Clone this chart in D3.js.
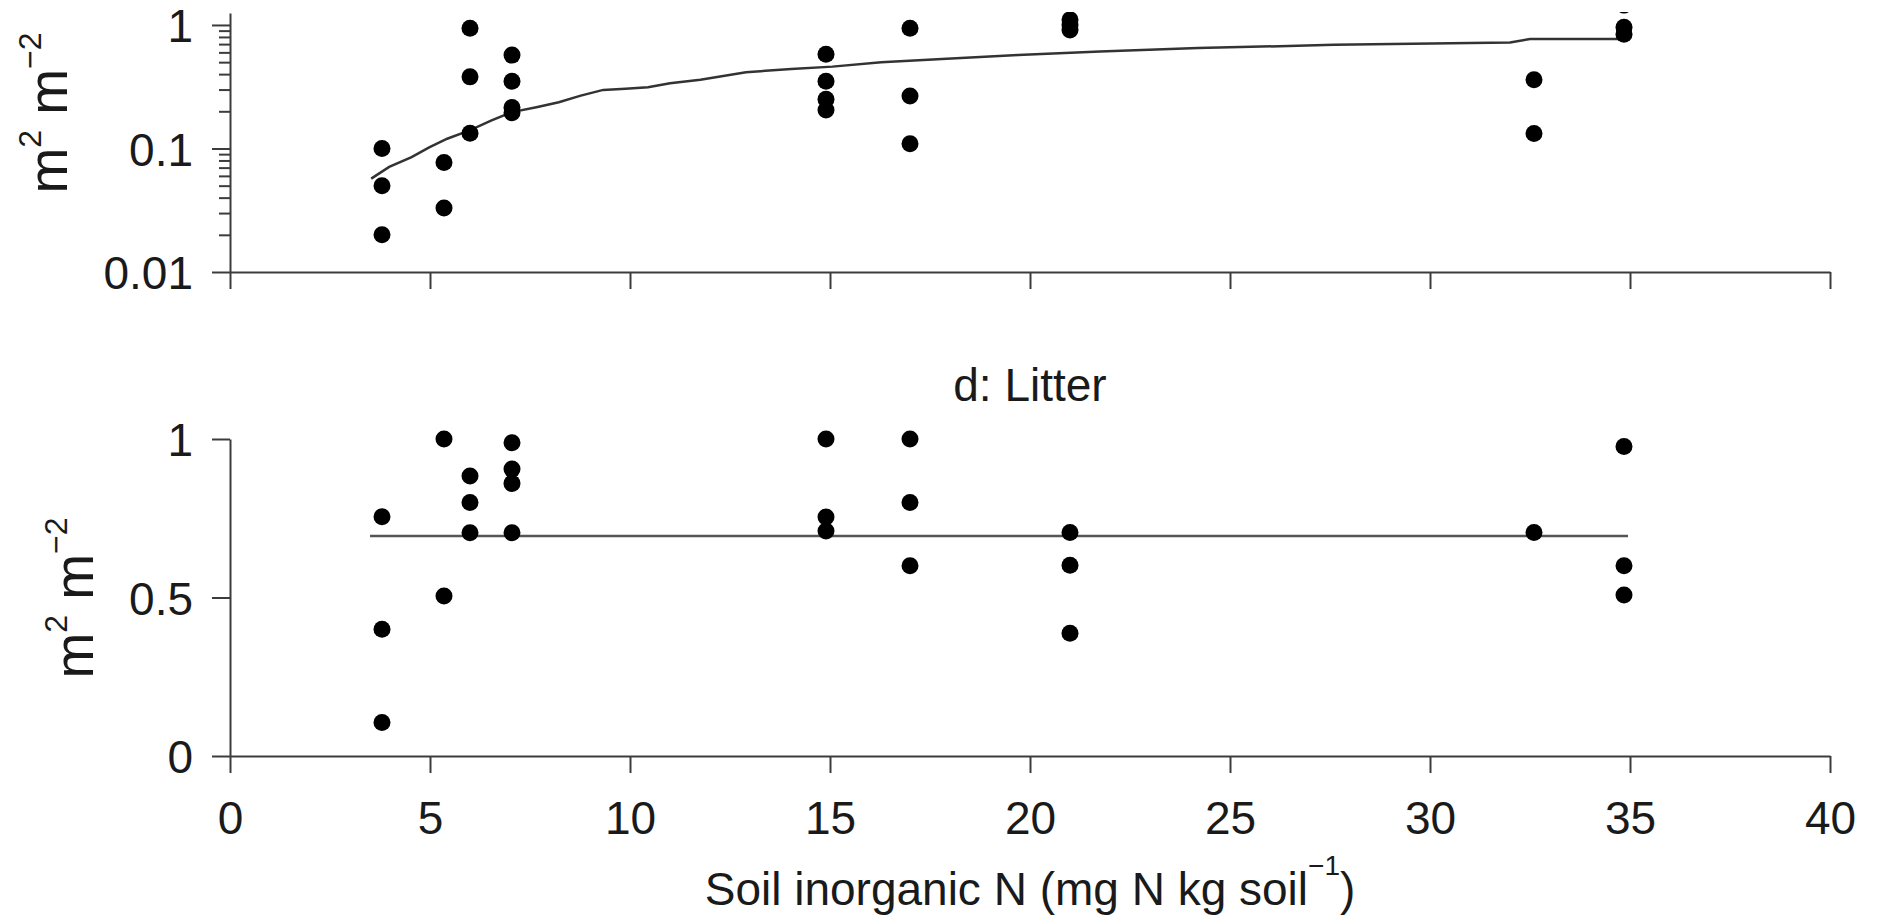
<!DOCTYPE html>
<html>
<head>
<meta charset="utf-8">
<script src="https://cdn.jsdelivr.net/npm/d3@7"></script>
<style>
    body { margin: 0; background: #fff; }
    svg { display: block; font-family: "Liberation Sans", Arial, sans-serif; }
</style>
</head>
<body>
<svg id="chart"></svg>
<script>
const width = 1883;
const height = 921;

// upper panel (log scale)
const topX = [3.8, 3.8, 3.8, 5.35, 5.35, 6, 6, 6, 7.05, 7.05, 7.05, 7.05,
    14.9, 14.9, 14.9, 14.9, 17, 17, 17, 21, 21, 21, 32.6, 32.6, 34.85, 34.85, 34.85];
const topY = [0.1, 0.05, 0.02, 0.077, 0.033, 0.94, 0.38, 0.133, 0.57, 0.35, 0.215, 0.195,
    0.58, 0.35, 0.25, 0.205, 0.94, 0.266, 0.109, 0.91, 1.0, 1.1, 0.36, 0.132, 0.96, 0.84, 1.45];
const topFitX = [3.53, 3.98, 4.54, 4.98, 5.43, 5.99, 6.54, 7.05, 7.66, 8.22, 8.77, 9.33, 9.89,
    10.45, 11.0, 11.76, 12.9, 14.03, 15.06, 16.28, 17.8, 19.7, 21.75, 24.2, 27.6, 32.0, 32.5, 34.8];
const topFitY = [0.057, 0.071, 0.085, 0.102, 0.12, 0.14, 0.169, 0.197, 0.216, 0.237, 0.268, 0.298, 0.304,
    0.313, 0.337, 0.36, 0.415, 0.44, 0.46, 0.5, 0.53, 0.57, 0.61, 0.65, 0.69, 0.72, 0.77, 0.77];

// d: Litter
const litterX = [3.8, 3.8, 3.8, 5.35, 5.35, 6, 6, 6, 7.05, 7.05, 7.05, 7.05,
    14.9, 14.9, 14.9, 17, 17, 17, 21, 21, 21, 32.6, 34.85, 34.85, 34.85];
const litterY = [0.755, 0.40, 0.106, 1.0, 0.505, 0.883, 0.80, 0.704, 0.988, 0.905, 0.86, 0.704,
    1.0, 0.754, 0.71, 1.0, 0.80, 0.60, 0.705, 0.602, 0.387, 0.705, 0.976, 0.60, 0.508];
const litterFitX = [3.5, 34.95];
const litterFitY = [0.694, 0.694];

const xTicks = [0, 5, 10, 15, 20, 25, 30, 35, 40];
const topTicks = [0.01, 0.1, 1];
const topMinorTicks = [0.02, 0.03, 0.04, 0.05, 0.06, 0.07, 0.08, 0.09,
    0.2, 0.3, 0.4, 0.5, 0.6, 0.7, 0.8, 0.9];
const litterTicks = [0, 0.5, 1];

const axisColor = '#3c3c3c';
const textColor = '#1a1a1a';

const svg = d3.select('#chart')
    .attr('width', width)
    .attr('height', height);

const x = d3.scaleLinear().domain([0, 40]).range([230, 1830]);
const yTop = d3.scaleLog().domain([0.01, 1.25]).range([272, 13]);
const yLit = d3.scaleLinear().domain([0, 1]).range([756, 439]);

function styleAxis(g) {
    g.attr('font-family', null).attr('font-size', 46);
    g.select('.domain').attr('stroke', axisColor).attr('stroke-width', 2);
    g.selectAll('.tick line').attr('stroke', axisColor).attr('stroke-width', 2);
    g.selectAll('.tick text').attr('fill', textColor);
}

// ---- top panel
svg.append('g')
    .attr('transform', 'translate(0,272)')
    .call(d3.axisBottom(x).tickValues(xTicks).tickSize(17).tickSizeOuter(0).tickFormat(''))
    .call(styleAxis);

svg.append('g')
    .attr('transform', 'translate(230,0)')
    .call(d3.axisLeft(yTop).tickValues(topMinorTicks).tickSize(11).tickFormat(''))
    .call(styleAxis)
    .call(g => g.select('.domain').remove());

svg.append('g')
    .attr('transform', 'translate(230,0)')
    .call(d3.axisLeft(yTop).tickValues(topTicks).tickSize(18).tickPadding(19).tickSizeOuter(0).tickFormat(d => String(d)))
    .call(styleAxis)
    .call(g => g.selectAll('.tick text').attr('dy', '0.36em'));

svg.append('clipPath').attr('id', 'topClip')
    .append('rect').attr('x', 0).attr('y', 12).attr('width', width).attr('height', 300);

const topFit = topFitX.map((d, i) => [d, topFitY[i]]);
svg.append('path')
    .datum(topFit)
    .attr('fill', 'none')
    .attr('stroke', '#333')
    .attr('stroke-width', 2.5)
    .attr('d', d3.line().x(d => x(d[0])).y(d => yTop(d[1])));

svg.append('g')
    .attr('clip-path', 'url(#topClip)')
    .selectAll('circle')
    .data(topX.map((d, i) => [d, topY[i]]))
    .enter()
    .append('circle')
    .attr('cx', d => x(d[0]))
    .attr('cy', d => yTop(d[1]))
    .attr('r', 8.5)
    .attr('fill', '#000');

// ---- bottom panel
svg.append('g')
    .attr('transform', 'translate(0,756)')
    .call(d3.axisBottom(x).tickValues(xTicks).tickSize(17).tickPadding(28).tickSizeOuter(0))
    .call(styleAxis);

svg.append('g')
    .attr('transform', 'translate(230,0)')
    .call(d3.axisLeft(yLit).tickValues(litterTicks).tickSize(18).tickPadding(19).tickSizeOuter(0).tickFormat(d => String(d)))
    .call(styleAxis)
    .call(g => g.selectAll('.tick text').attr('dy', '0.36em'));

svg.append('path')
    .datum(litterFitX.map((d, i) => [d, litterFitY[i]]))
    .attr('fill', 'none')
    .attr('stroke', '#555')
    .attr('stroke-width', 2.5)
    .attr('d', d3.line().x(d => x(d[0])).y(d => yLit(d[1])));

svg.append('g')
    .selectAll('circle')
    .data(litterX.map((d, i) => [d, litterY[i]]))
    .enter()
    .append('circle')
    .attr('cx', d => x(d[0]))
    .attr('cy', d => yLit(d[1]))
    .attr('r', 8.5)
    .attr('fill', '#000');

// ---- texts
function yLabel(px, py) {
    const t = svg.append('text')
        .attr('transform', `translate(${px},${py}) rotate(-90)`)
        .attr('text-anchor', 'middle')
        .attr('font-size', 55)
        .attr('fill', textColor)
        .style('white-space', 'pre');
    t.append('tspan').text('m');
    t.append('tspan').attr('dy', -26).attr('font-size', 32).text('2');
    t.append('tspan').attr('dy', 26).text(' m');
    t.append('tspan').attr('dy', -26).attr('font-size', 32).text('\u22122');
}
yLabel(67, 113);
yLabel(93, 598);

svg.append('text')
    .attr('x', 1030)
    .attr('y', 401)
    .attr('text-anchor', 'middle')
    .attr('font-size', 46)
    .attr('fill', textColor)
    .text('d: Litter');

const xTitle = svg.append('text')
    .attr('x', 1030)
    .attr('y', 905)
    .attr('text-anchor', 'middle')
    .attr('font-size', 46)
    .attr('fill', textColor);
xTitle.append('tspan').text('Soil inorganic N (mg N kg soil');
xTitle.append('tspan').attr('dy', -30).attr('font-size', 28).text('\u22121');
xTitle.append('tspan').attr('dy', 30).text(')');
</script>
</body>
</html>
